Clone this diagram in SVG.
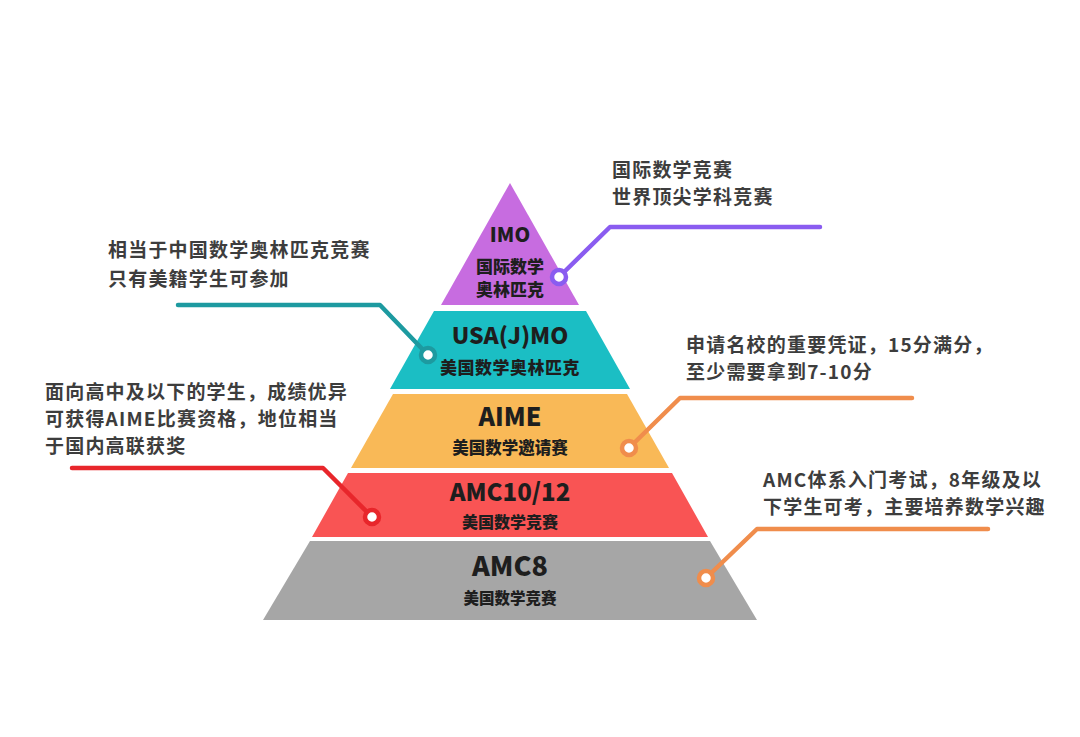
<svg xmlns="http://www.w3.org/2000/svg" width="1080" height="737" viewBox="0 0 1080 737">
<style>
text{font-family:"Noto Sans CJK SC","Noto Sans",sans-serif;font-weight:700}
.lvl{fill:#1e1e1e;text-anchor:middle;font-weight:900}
.big{font-size:25px}
.sub{font-size:16.5px}
.note{fill:#3d3d3d;font-size:19px;letter-spacing:1.2px}
.ln{fill:none;stroke-width:4.5;stroke-linecap:round;stroke-linejoin:round}
.dot{fill:#fff;stroke-width:4.5}
</style>
<rect width="1080" height="737" fill="#fff"/>
<g id="imo">
<polygon points="510,183 579,305 441,305" fill="#C76CE0"/>
<text class="lvl" x="510" y="242" font-size="20">IMO</text>
<text class="lvl" x="510" y="273" font-size="17">国际数学</text>
<text class="lvl" x="510" y="296" font-size="17">奥林匹克</text>
</g>
<g id="usajmo">
<polygon points="434,311 586,311 630,389 390,389" fill="#1BBEC4"/>
<text class="lvl" x="510" y="344" font-size="23">USA(J)MO</text>
<text class="lvl" x="510" y="374" font-size="17" letter-spacing="0.5">美国数学奥林匹克</text>
</g>
<g id="aime">
<polygon points="393,394 627,394 669,468 351,468" fill="#F9B957"/>
<text class="lvl big" x="510" y="426">AIME</text>
<text class="lvl sub" x="510" y="454">美国数学邀请赛</text>
</g>
<g id="amc1012">
<polygon points="348,473 672,473 708,537 312,537" fill="#F95454"/>
<text class="lvl" x="510" y="501" font-size="24">AMC10/12</text>
<text class="lvl" x="510" y="528" font-size="16">美国数学竞赛</text>
</g>
<g id="amc8">
<polygon points="310,541 710,541 757,620 263,620" fill="#A6A6A6"/>
<text class="lvl" x="510" y="576" font-size="27">AMC8</text>
<text class="lvl" x="510" y="604" font-size="15.5">美国数学竞赛</text>
</g>
<g id="notes">
<text class="note" x="612" y="177">国际数学竞赛</text>
<text class="note" x="612" y="204">世界顶尖学科竞赛</text>
<text class="note" x="108" y="257">相当于中国数学奥林匹克竞赛</text>
<text class="note" x="108" y="286">只有美籍学生可参加</text>
<text class="note" x="45" y="399">面向高中及以下的学生，成绩优异</text>
<text class="note" x="45" y="426">可获得AIME比赛资格，地位相当</text>
<text class="note" x="45" y="453">于国内高联获奖</text>
<text class="note" x="686" y="352">申请名校的重要凭证，15分满分，</text>
<text class="note" x="686" y="379">至少需要拿到7-10分</text>
<text class="note" x="763" y="487">AMC体系入门考试，8年级及以</text>
<text class="note" x="763" y="514">下学生可考，主要培养数学兴趣</text>
</g>
<g id="connectors">
<polyline class="ln" stroke="#8A5CF0" points="559,277 610,227 820,227"/>
<circle class="dot" stroke="#8A5CF0" cx="559" cy="277" r="7"/>
<polyline class="ln" stroke="#1D9AA0" points="428,355 380,305 178,305"/>
<circle class="dot" stroke="#1D9AA0" cx="428" cy="355" r="7"/>
<polyline class="ln" stroke="#E8262B" points="372,517 323,468 72,468"/>
<circle class="dot" stroke="#E8262B" cx="372" cy="517" r="7"/>
<polyline class="ln" stroke="#F08D4C" points="629,448 680,398 912,398"/>
<circle class="dot" stroke="#F08D4C" cx="629" cy="448" r="7"/>
<polyline class="ln" stroke="#F08D4C" points="706,578 757,529 988,529"/>
<circle class="dot" stroke="#F08D4C" cx="706" cy="578" r="7"/>
</g>
</svg>
